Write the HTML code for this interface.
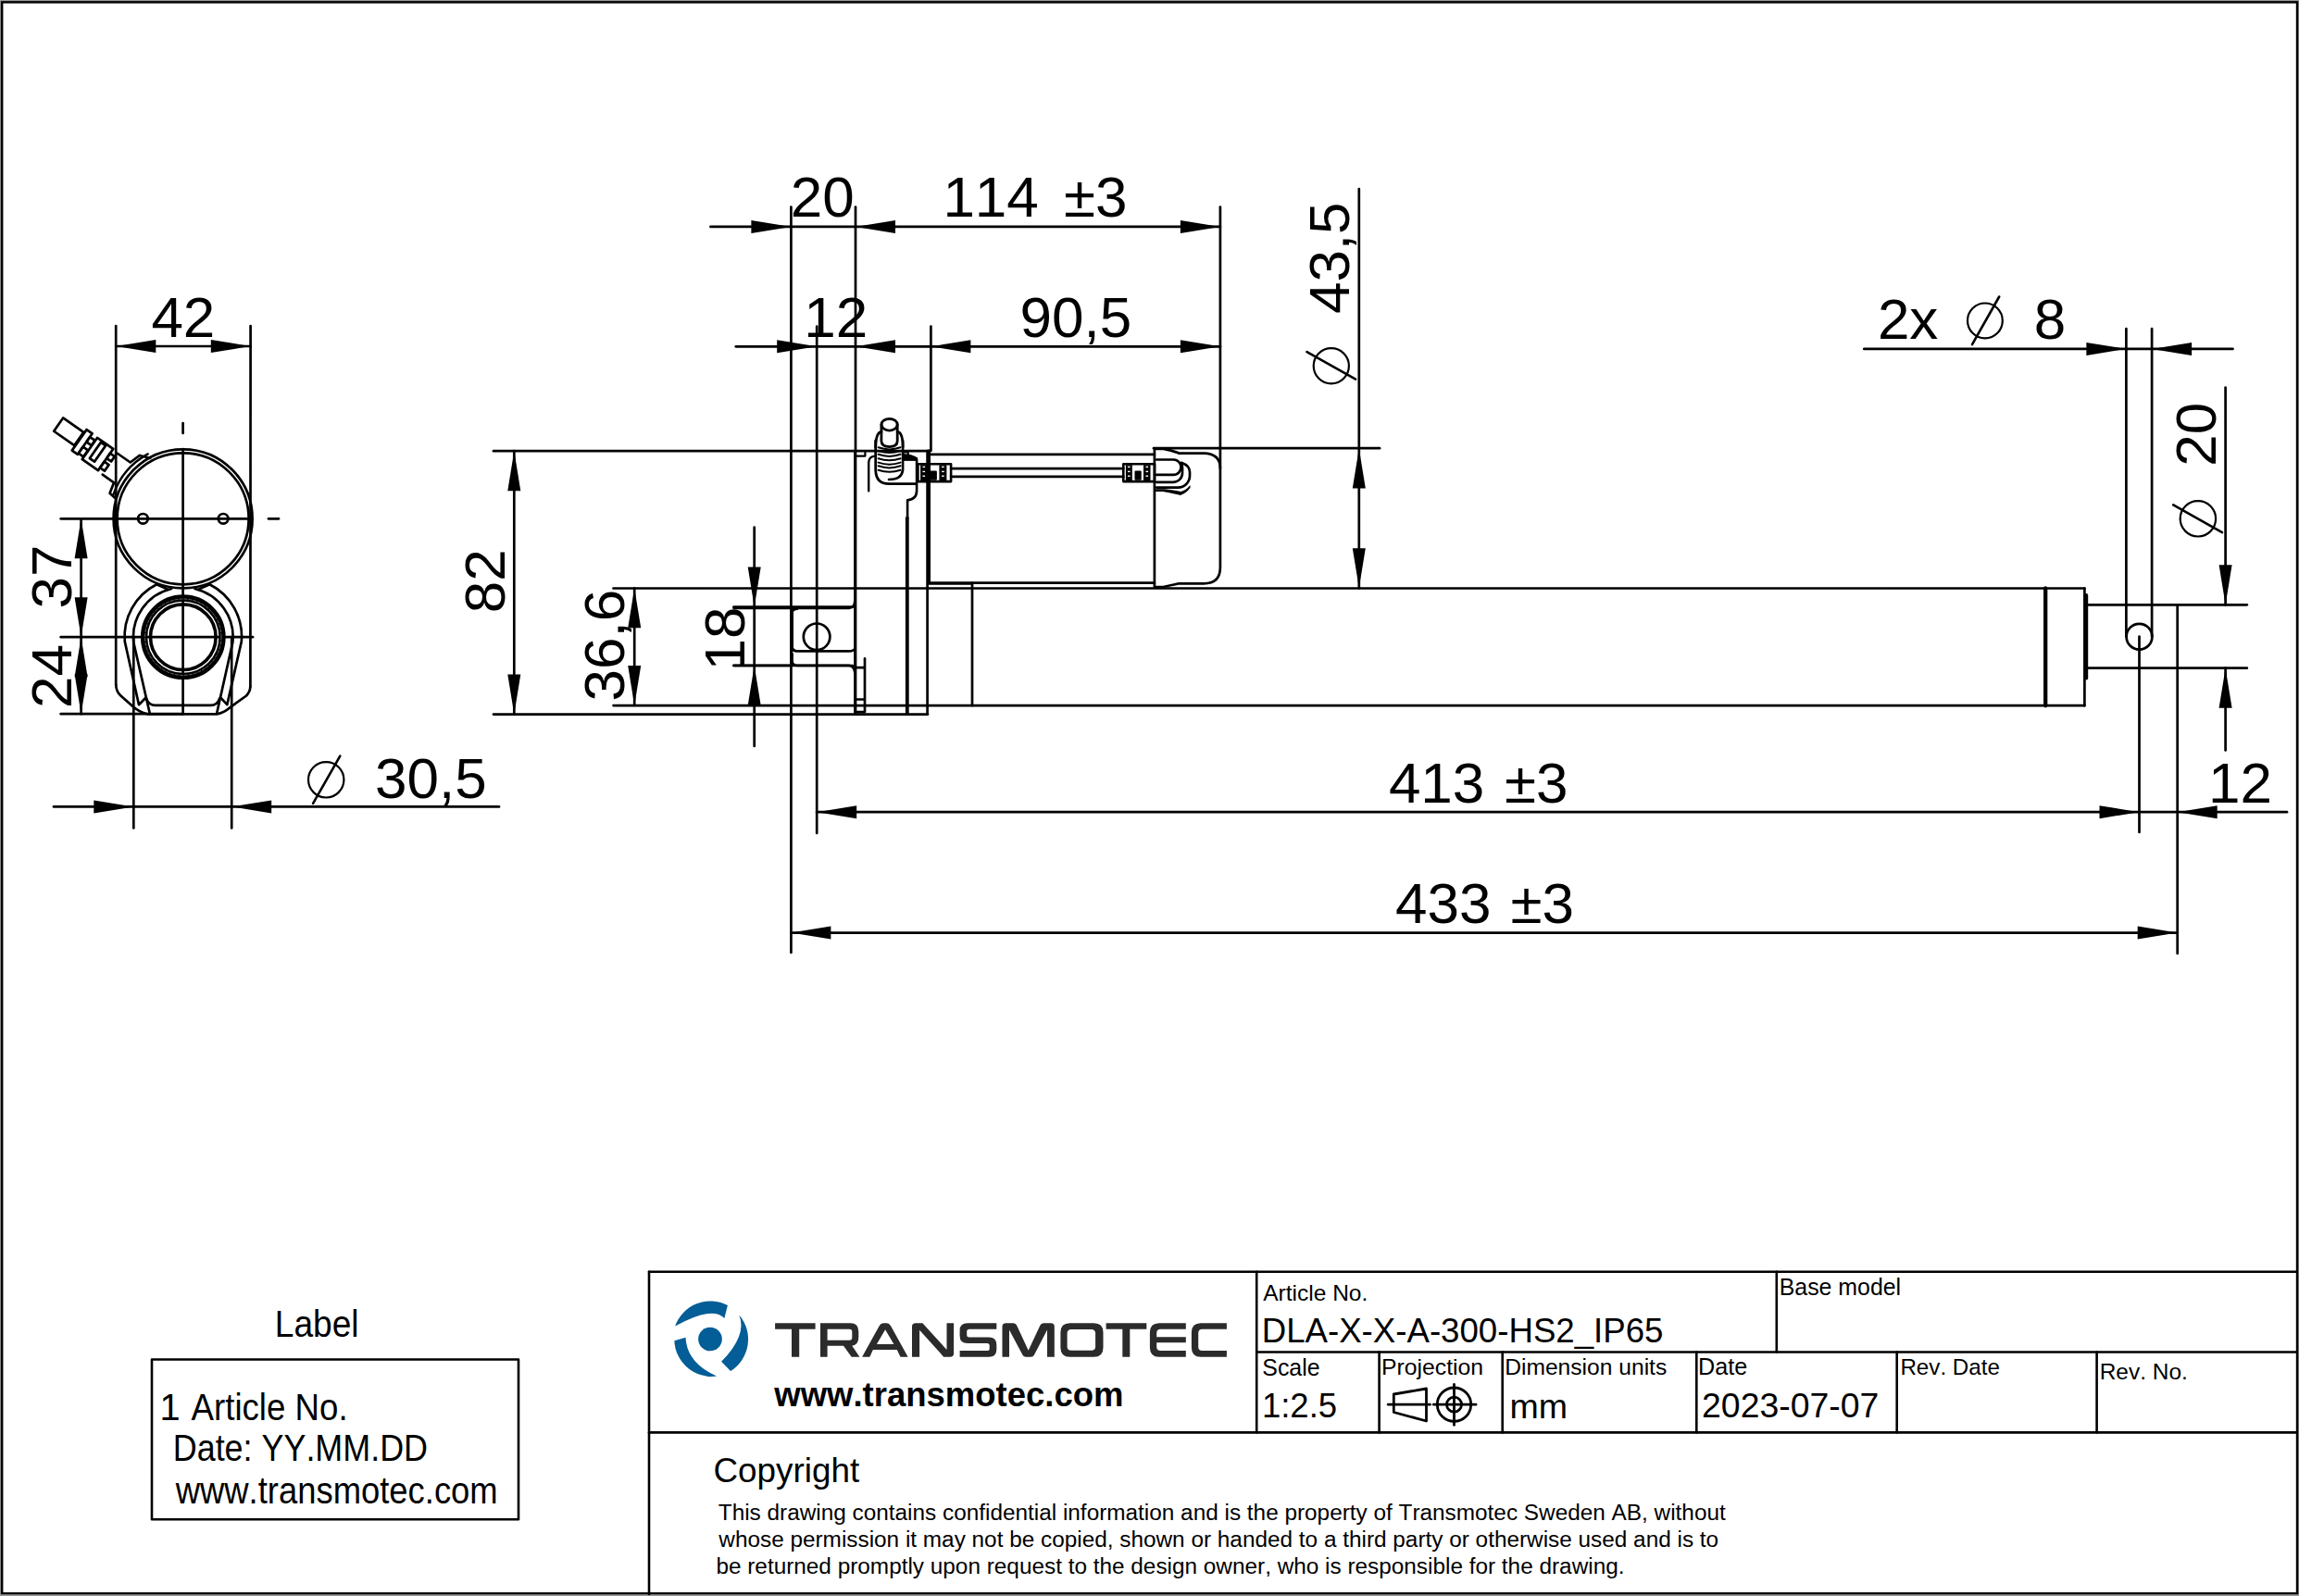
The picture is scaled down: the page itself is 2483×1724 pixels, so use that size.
<!DOCTYPE html>
<html><head><meta charset="utf-8"><style>
html,body{margin:0;padding:0;background:#fff;overflow:hidden;}
svg{display:block;}
text{font-family:"Liberation Sans",sans-serif;font-kerning:none;}
</style></head><body>
<svg width="2483" height="1724" viewBox="0 0 2483 1724">
<rect width="2483" height="1724" fill="#999"/>
<rect x="1" y="1" width="2481" height="1722" fill="#fff"/>
<rect x="2.15" y="2.35" width="2478.9" height="1718.95" fill="none" stroke="#000" stroke-width="2.5"/>
<g stroke="#000" fill="none" stroke-width="2.7" stroke-linecap="round" stroke-linejoin="round">
<line x1="125.2" y1="352.0" x2="125.2" y2="739.7"/>
<line x1="270.6" y1="352.0" x2="270.4" y2="741.8"/>
<line x1="125.3" y1="374.0" x2="270.8" y2="374.0"/>
<path d="M125.2,739.7 Q125.5,747 130.4,751.5 L143.7,763.3 Q150,769 159,771.3 L234.1,771.3 Q242,770 248.7,764 L266.1,751.5 Q270.3,747 270.3,741.8" />
<circle cx="197.6" cy="560.3" r="75.0"/>
<circle cx="197.6" cy="560.3" r="71.0"/>
<circle cx="154.4" cy="560.3" r="5.3"/>
<circle cx="241.1" cy="560.3" r="5.3"/>
<line x1="65.7" y1="560.3" x2="271.0" y2="560.3"/>
<line x1="290.0" y1="560.3" x2="301.0" y2="560.3"/>
<line x1="197.6" y1="485.0" x2="197.6" y2="771.0"/>
<line x1="197.6" y1="457.0" x2="197.6" y2="468.0"/>
<g transform="translate(63.16 458.6) rotate(35)"><rect x="0" y="-8.7" width="27" height="17.4" stroke-width="2.7"/><rect x="28" y="-13" width="7.5" height="27.5" stroke-width="2.7"/><rect x="35.5" y="-8.5" width="6.5" height="6.5" stroke-width="2.7"/><rect x="35.5" y="4.5" width="6.5" height="8.5" stroke-width="2.7"/><rect x="42.5" y="-12.3" width="21" height="28.3" stroke-width="2.7"/><rect x="48.5" y="-10.5" width="6.3" height="21" stroke-width="2.7"/><rect x="63.5" y="-6.5" width="6" height="6.5" stroke-width="2.7"/><rect x="63.5" y="4.5" width="6" height="8" stroke-width="2.7"/><path d="M70,-11 L87,-11 L91,-23 L102,-27 M70,17 L85,17 L88,29 L96,30"/></g>
<path d="M122.4,534.4 A79.5,79.5 0 0 1 159.7,490.4" stroke-width="2.4" />
<path d="M169.2,631.2 A63.2,63.2 0 0 0 134.8,693 L150,761.2 L156.9,754.3" />
<path d="M226.4,631.2 A63.2,63.2 0 0 1 260.8,693 L245.3,761.2 L238.3,753.6" />
<path d="M185,636 A53.6,53.6 0 0 0 144.3,694 L161.8,770.8" />
<path d="M210.6,636 A53.6,53.6 0 0 1 251.3,694 L234.1,770.8" />
<path d="M158,754.3 Q160.5,761.9 168,761.9 L227.2,761.9 Q235,761.9 237.2,754.3" />
<line x1="169.2" y1="631.2" x2="181.0" y2="636.5"/>
<line x1="226.4" y1="631.2" x2="214.6" y2="636.5"/>
<line x1="65.7" y1="688.2" x2="273.0" y2="688.2"/>
<circle cx="197.8" cy="688.2" r="35.3" stroke-width="3.6"/>
<circle cx="197.8" cy="688.2" r="42.2" stroke-width="7.4"/>
<circle cx="197.8" cy="688.2" r="41.2" stroke="#666" stroke-width="1" stroke-dasharray="3 2"/>
<line x1="87.6" y1="560.3" x2="87.6" y2="771.2"/>
<line x1="65.7" y1="771.2" x2="198.0" y2="771.2"/>
<line x1="555.3" y1="487.2" x2="555.3" y2="771.6"/>
<line x1="533.0" y1="487.2" x2="1002.0" y2="487.2"/>
<line x1="533.0" y1="771.6" x2="1002.0" y2="771.6"/>
<line x1="58.0" y1="871.4" x2="539.0" y2="871.4"/>
<line x1="144.3" y1="688.0" x2="144.3" y2="894.5"/>
<line x1="250.2" y1="688.0" x2="250.2" y2="894.5"/>
<circle cx="352.2" cy="842.3" r="19.2" stroke-width="2.2"/>
<line x1="338.1" y1="867.9" x2="367.3" y2="816.7" stroke-width="2.6"/>
<line x1="854.4" y1="223.5" x2="854.4" y2="1029.0"/>
<line x1="924.0" y1="223.5" x2="924.0" y2="771.6"/>
<line x1="882.2" y1="352.7" x2="882.2" y2="900.0"/>
<line x1="1005.4" y1="352.7" x2="1005.4" y2="487.0"/>
<line x1="1317.9" y1="223.5" x2="1317.9" y2="506.0"/>
<line x1="767.4" y1="244.9" x2="1317.9" y2="244.9"/>
<line x1="794.8" y1="374.3" x2="1317.9" y2="374.3"/>
<line x1="1467.8" y1="204.0" x2="1467.8" y2="635.3"/>
<line x1="1246.0" y1="484.2" x2="1490.0" y2="484.2"/>
<circle cx="1437.8" cy="395.3" r="19.1" stroke-width="2.2"/>
<line x1="1411.5" y1="380.2" x2="1464.1" y2="409.7" stroke-width="2.6"/>
<line x1="2013.3" y1="376.9" x2="2411.5" y2="376.9"/>
<line x1="2296.4" y1="355.0" x2="2296.4" y2="687.7"/>
<line x1="2324.1" y1="355.0" x2="2324.1" y2="687.7"/>
<circle cx="2143.9" cy="346.4" r="18.9" stroke-width="2.2"/>
<line x1="2130.0" y1="372.2" x2="2159.2" y2="320.5" stroke-width="2.6"/>
<line x1="2403.6" y1="418.7" x2="2403.6" y2="653.3"/>
<line x1="2403.6" y1="721.7" x2="2403.6" y2="810.4"/>
<line x1="2254.0" y1="653.3" x2="2426.8" y2="653.3"/>
<line x1="2254.0" y1="721.7" x2="2426.8" y2="721.7"/>
<circle cx="2373.9" cy="560.3" r="19.2" stroke-width="2.2"/>
<line x1="2347.2" y1="545.3" x2="2400.0" y2="575.2" stroke-width="2.6"/>
<circle cx="2310.5" cy="687.7" r="13.9"/>
<line x1="2310.5" y1="687.7" x2="2310.5" y2="899.0"/>
<line x1="2351.7" y1="654.7" x2="2351.7" y2="1030.0"/>
<line x1="882.2" y1="877.2" x2="2470.0" y2="877.2"/>
<line x1="854.4" y1="1007.6" x2="2351.7" y2="1007.6"/>
<line x1="685.2" y1="635.3" x2="685.2" y2="762.0"/>
<line x1="662.5" y1="635.5" x2="2251.4" y2="635.5"/>
<line x1="662.5" y1="762.1" x2="2251.4" y2="762.1"/>
<line x1="814.7" y1="569.7" x2="814.7" y2="806.0"/>
<line x1="792.5" y1="655.5" x2="921.0" y2="655.5"/>
<line x1="792.5" y1="719.0" x2="921.0" y2="719.0"/>
<line x1="1050.0" y1="629.7" x2="1050.0" y2="762.1"/>
<line x1="2251.4" y1="635.5" x2="2251.4" y2="762.3"/>
<line x1="2209.2" y1="635.5" x2="2209.2" y2="762.3" stroke-width="4.3"/>
<line x1="2253.2" y1="643.0" x2="2253.2" y2="732.5" stroke-width="4"/>
<line x1="1003.2" y1="487.0" x2="1003.2" y2="629.7" stroke-width="3.6"/>
<line x1="1004.0" y1="490.9" x2="1246.9" y2="490.9"/>
<line x1="1004.0" y1="629.7" x2="1246.9" y2="629.7"/>
<line x1="1004.0" y1="630.4" x2="1050.0" y2="630.4"/>
<path d="M1246.9,484.8 L1246.9,634 M1246.9,484.8 L1256.5,484.8 Q1265,486 1273.5,489.7 L1300.1,489.7 Q1317.9,490 1317.9,506 L1317.9,613 Q1317.9,630.3 1300.1,630.3 L1273.5,630.3 Q1265,632 1256.5,634 L1246.9,634" />
<line x1="1001.6" y1="487.2" x2="1001.6" y2="771.2"/>
<line x1="923.5" y1="487.0" x2="923.5" y2="771.2"/>
<line x1="979.8" y1="559.6" x2="979.8" y2="771.2" stroke-width="3.8"/>
<path d="M792.5,656.8 L917,656.8 Q923.2,656 923.2,649.7" />
<path d="M855.5,703.3 L855.5,662 Q856,657.7 861,657.7" />
<path d="M855.5,662 L855.5,699 Q856,703.3 861,703.3 L917,703.3 Q922,703.3 923,701" />
<path d="M855.5,706 L855.5,714.6 Q856,718.8 861,718.8 L917,718.8 Q922.5,719.5 923.2,726" />
<line x1="792.5" y1="718.8" x2="855.5" y2="718.8"/>
<circle cx="882.1" cy="687.8" r="14.3"/>
<path d="M924.1,721.2 L934,721.2 M934,711.3 L934,769.1 M924.1,755.5 L934,755.5 M924.1,769.1 L934,769.1" />
<line x1="1027.1" y1="506.1" x2="1213.3" y2="506.1"/>
<line x1="1027.1" y1="514.8" x2="1213.3" y2="514.8"/>
<path d="M991.4,501.2 H1027.1 V520.1 H991.4 Z" stroke-width="2.6" />
<path d="M1213.3,501.2 H1247 V520.1 H1213.3 Z" stroke-width="2.6" />
<path d="M1249.2,496.5 H1267.3 A8.2,8.2 0 0 1 1267.3,512.9 H1249.2" />
<path d="M1249.2,520.8 H1267.3 A9.8,9.8 0 0 0 1277,511 L1277,505 Q1277,502 1275,500.3" />
<path d="M1249.2,526.6 H1272 A12.8,12.8 0 0 0 1285,513.8 L1285,510 Q1285,503 1276,499.8" />
<ellipse cx="960.6" cy="458.7" rx="8.6" ry="6.4" stroke-width="2.8"/>
<path d="M951.9,458.7 V476.3 Q952,482.6 960.6,482.6 Q969.2,482.6 969.2,476.3 V458.7" stroke-width="2.8" />
<path d="M945.7,483 Q946,467 952,466.5 M969.2,466.5 Q975.1,467 975.1,483" stroke-width="2.8" />
<path d="M945.7,476 V507.5 Q946,522.7 960.1,522.7 H989.5" stroke-width="2.8" />
<path d="M975.1,476 V507.5 Q974,518 960,518" stroke-width="2.6" />
<path d="M948.6,483.3 Q960.6,487.5 972.6,483.3" stroke-width="2.0" />
<path d="M948.6,487.0 Q960.6,491.2 972.6,487.0" stroke-width="2.0" />
<path d="M948.6,490.8 Q960.6,495.0 972.6,490.8" stroke-width="2.0" />
<path d="M948.6,495.2 Q960.6,499.4 972.6,495.2" stroke-width="2.0" />
<path d="M948.6,499.6 Q960.6,503.8 972.6,499.6" stroke-width="2.0" />
<path d="M948.6,503.3 Q960.6,507.5 972.6,503.3" stroke-width="2.0" />
<path d="M948.6,507.7 Q960.6,511.9 972.6,507.7" stroke-width="2.0" />
<path d="M938.2,530.2 V499.5 Q938.5,493 945,492.6" stroke-width="2.4" />
<path d="M925,492.6 H934.4 V488.5" stroke-width="2.2" />
<path d="M975.1,496.4 H990.1 V522.7 M990.1,522.7 V530 Q990,539.5 980.1,540.2 V560" stroke-width="2.6" />
<path d="M975.6,488.4 H980.8 V491" stroke-width="2.0" />
<rect x="164" y="1468.5" width="396" height="172.8" stroke-width="2.6"/>
<line x1="701.0" y1="1373.8" x2="2480.0" y2="1373.8" stroke-width="2.6"/>
<line x1="701.0" y1="1373.8" x2="701.0" y2="1722.0" stroke-width="2.6"/>
<line x1="1357.2" y1="1373.8" x2="1357.2" y2="1547.4" stroke-width="2.6"/>
<line x1="701.0" y1="1547.4" x2="2480.0" y2="1547.4" stroke-width="2.6"/>
<line x1="1357.2" y1="1460.5" x2="2480.0" y2="1460.5" stroke-width="2.6"/>
<line x1="1918.8" y1="1373.8" x2="1918.8" y2="1460.5" stroke-width="2.6"/>
<line x1="1489.6" y1="1460.5" x2="1489.6" y2="1547.4" stroke-width="2.6"/>
<line x1="1622.7" y1="1460.5" x2="1622.7" y2="1547.4" stroke-width="2.6"/>
<line x1="1832.3" y1="1460.5" x2="1832.3" y2="1547.4" stroke-width="2.6"/>
<line x1="2048.7" y1="1460.5" x2="2048.7" y2="1547.4" stroke-width="2.6"/>
<line x1="2264.6" y1="1460.5" x2="2264.6" y2="1547.4" stroke-width="2.6"/>
<path d="M1505.3,1506 L1540.5,1500 L1540.5,1535 L1505.3,1525.5 Z" stroke-width="2.8" />
<line x1="1499.3" y1="1517.2" x2="1544.4" y2="1517.2" stroke-width="2.8"/>
<circle cx="1570.5" cy="1517.2" r="18.2" stroke-width="2.8"/>
<circle cx="1570.5" cy="1517.2" r="8.0" stroke-width="2.8"/>
<line x1="1548.3" y1="1517.2" x2="1594.0" y2="1517.2" stroke-width="2.8"/>
<line x1="1570.5" y1="1495.5" x2="1570.5" y2="1539.3" stroke-width="2.8"/>
</g>
<g fill="#000">
<polygon points="125.3,374.0 168.3,367.0 168.3,381.0"/>
<polygon points="270.8,374.0 227.8,367.0 227.8,381.0"/>
<polygon points="87.6,560.3 80.6,603.3 94.6,603.3"/>
<polygon points="87.6,688.2 80.6,645.2 94.6,645.2"/>
<polygon points="87.6,688.2 80.6,731.2 94.6,731.2"/>
<polygon points="87.6,771.2 80.6,728.2 94.6,728.2"/>
<polygon points="555.3,487.2 548.3,530.2 562.3,530.2"/>
<polygon points="555.3,771.6 548.3,728.6 562.3,728.6"/>
<polygon points="144.3,871.4 101.3,864.4 101.3,878.4"/>
<polygon points="250.2,871.4 293.2,864.4 293.2,878.4"/>
<polygon points="854.4,244.9 811.4,237.9 811.4,251.9"/>
<polygon points="924.0,244.9 967.0,237.9 967.0,251.9"/>
<polygon points="1317.9,244.9 1274.9,237.9 1274.9,251.9"/>
<polygon points="882.2,374.3 839.2,367.3 839.2,381.3"/>
<polygon points="924.0,374.3 967.0,367.3 967.0,381.3"/>
<polygon points="1005.4,374.3 1048.4,367.3 1048.4,381.3"/>
<polygon points="1317.9,374.3 1274.9,367.3 1274.9,381.3"/>
<polygon points="1467.8,484.4 1460.8,527.4 1474.8,527.4"/>
<polygon points="1467.8,635.3 1460.8,592.3 1474.8,592.3"/>
<polygon points="2296.4,376.9 2253.4,369.9 2253.4,383.9"/>
<polygon points="2324.1,376.9 2367.1,369.9 2367.1,383.9"/>
<polygon points="2403.6,653.3 2396.6,610.3 2410.6,610.3"/>
<polygon points="2403.6,721.7 2396.6,764.7 2410.6,764.7"/>
<polygon points="882.2,877.2 925.2,870.2 925.2,884.2"/>
<polygon points="2310.5,877.2 2267.5,870.2 2267.5,884.2"/>
<polygon points="2351.7,877.2 2394.7,870.2 2394.7,884.2"/>
<polygon points="854.4,1007.6 897.4,1000.6 897.4,1014.6"/>
<polygon points="2351.7,1007.6 2308.7,1000.6 2308.7,1014.6"/>
<polygon points="685.2,635.3 678.2,678.3 692.2,678.3"/>
<polygon points="685.2,762.0 678.2,719.0 692.2,719.0"/>
<polygon points="814.7,655.5 807.7,612.5 821.7,612.5"/>
<polygon points="814.7,719.0 807.7,762.0 821.7,762.0"/>
<rect x="994.1" y="502.2" width="7.3" height="16.900000000000034"/>
<rect x="996.5" y="503.7" width="2.6" height="1.4" fill="#fff"/>
<rect x="996.5" y="508.7" width="2.6" height="1.4" fill="#fff"/>
<rect x="996.5" y="513.5" width="2.6" height="1.4" fill="#fff"/>
<rect x="1014.4" y="502.2" width="8.0" height="16.900000000000034"/>
<rect x="1017.1" y="503.7" width="2.6" height="1.4" fill="#fff"/>
<rect x="1017.1" y="508.7" width="2.6" height="1.4" fill="#fff"/>
<rect x="1017.1" y="513.5" width="2.6" height="1.4" fill="#fff"/>
<rect x="1004.3" y="508.4" width="7.6" height="10.3" rx="1.2"/>
<rect x="1215.9" y="502.2" width="6.9" height="16.900000000000034"/>
<rect x="1218.0" y="503.7" width="2.6" height="1.4" fill="#fff"/>
<rect x="1218.0" y="508.7" width="2.6" height="1.4" fill="#fff"/>
<rect x="1218.0" y="513.5" width="2.6" height="1.4" fill="#fff"/>
<rect x="1235.0" y="502.2" width="7.5" height="16.900000000000034"/>
<rect x="1237.5" y="503.7" width="2.6" height="1.4" fill="#fff"/>
<rect x="1237.5" y="508.7" width="2.6" height="1.4" fill="#fff"/>
<rect x="1237.5" y="513.5" width="2.6" height="1.4" fill="#fff"/>
<rect x="1225.5" y="508.4" width="7.2" height="10.3" rx="1.2"/>
<path d="M1247,528.3 L1258,528.3 Q1268,529.5 1275.5,531 Q1281,529.5 1285.5,524 L1285.5,527 Q1281,533 1274.6,535 Q1265,532.5 1256,531 L1247,531 Z"/>
<path d="M975.1,490 Q985,490.3 991.2,494.6 L990.6,497.4 L975.1,497.4 Z"/>
</g>
<g fill="#000" font-family="Liberation Sans, sans-serif">
<text x="163.4" y="363.9" font-size="62.00">42</text>
<text transform="translate(77.1 657.6) rotate(-90)" font-size="62.00">37</text>
<text transform="translate(77.1 764.9) rotate(-90)" font-size="62.00">24</text>
<text transform="translate(544.5 662.3) rotate(-90)" font-size="62.00">82</text>
<text x="405.1" y="862.0" font-size="62.00">30,5</text>
<text x="853.7" y="233.7" font-size="62.00">20</text>
<text x="1018.4" y="233.8" font-size="62.00">114</text>
<text x="1149.1" y="233.8" font-size="62.00">±3</text>
<text x="868.2" y="364.4" font-size="62.00">12</text>
<text x="1101.6" y="364.4" font-size="62.00">90,5</text>
<text transform="translate(1456.9 339.1) rotate(-90)" font-size="62.00">43,5</text>
<text x="2027.9" y="365.5" font-size="62.00">2x</text>
<text x="2196.7" y="365.5" font-size="62.00">8</text>
<text transform="translate(2393.4 503.7) rotate(-90)" font-size="62.00">20</text>
<text x="1499.9" y="866.8" font-size="62.00">413</text>
<text x="1624.9" y="866.8" font-size="62.00">±3</text>
<text x="2385.0" y="866.8" font-size="62.00">12</text>
<text x="1507.1" y="996.9" font-size="62.00">433</text>
<text x="1631.5" y="996.9" font-size="62.00">±3</text>
<text transform="translate(674.4 757.5) rotate(-90)" font-size="62.00">36,6</text>
<text transform="translate(803.6 724.5) rotate(-90)" font-size="62.00">18</text>
<text transform="translate(299.8 1444.1) scale(0.9327 1)" x="-3.26" y="0" font-size="39.80">Label</text>
<text transform="translate(206.6 1534.2) scale(0.9213 1)" x="-0.08" y="0" font-size="39.80">Article No.</text>
<text x="172.5" y="1534.2" font-size="39.80">1</text>
<text transform="translate(189.7 1578.0) scale(0.9020 1)" x="-3.26" y="0" font-size="39.80">Date: YY.MM.DD</text>
<text transform="translate(189.7 1624.2) scale(0.9152 1)" x="0.06" y="0" font-size="39.80">www.transmotec.com</text>
<text x="1364.2" y="1404.8" font-size="24.54">Article No.</text>
<text x="1362.7" y="1450.1" font-size="36.65">DLA-X-X-A-300-HS2_IP65</text>
<text x="1921.7" y="1398.5" font-size="24.90">Base model</text>
<text x="1363.3" y="1486.2" font-size="24.88">Scale</text>
<text x="1362.9" y="1530.8" font-size="36.52">1:2.5</text>
<text x="1492.0" y="1485.0" font-size="24.77">Projection</text>
<text x="1625.2" y="1485.0" font-size="24.61">Dimension units</text>
<text x="1630.5" y="1531.5" font-size="37.56">mm</text>
<text x="1834.1" y="1484.9" font-size="25.18">Date</text>
<text x="1838.1" y="1531.0" font-size="37.37">2023-07-07</text>
<text x="2052.4" y="1485.0" font-size="24.19">Rev. Date</text>
<text x="2267.7" y="1490.0" font-size="24.46">Rev. No.</text>
<text x="770.5" y="1600.5" font-size="36.83">Copyright</text>
<text x="775.8" y="1642.2" font-size="24.35">This drawing contains confidential information and is the property of Transmotec Sweden AB, without</text>
<text x="776.3" y="1670.9" font-size="24.35">whose permission it may not be copied, shown or handed to a third party or otherwise used and is to</text>
<text x="773.4" y="1700.3" font-size="24.35">be returned promptly upon request to the design owner, who is responsible for the drawing.</text>
<text x="836.3" y="1519.1" font-size="36.50" font-weight="bold">www.transmotec.com</text>
</g>
<g transform="translate(720 1395) scale(0.062657)" fill="#035d96">
<circle cx="750" cy="822" r="205"/>
<path d="M145,600 A645,645 0 0 1 1052,240 L995,462 Q790,240 145,600 Z"/>
<path d="M1250,405 A645,645 0 0 1 1102,1372 L943,1210 Q1392,752 1250,405 Z"/>
<path d="M862,1462 A645,645 0 0 1 133,848 L327,795 Q348,1232 862,1462 Z"/>
</g>
<g fill="#2b2b2b">
<path d="M837.1,1429.3 H880.6 V1435.8 H863.2 V1465.7 H855 V1435.8 H837.1 Z"/>
<path fill-rule="evenodd" d="M886,1429.3 H918.5 Q927.3,1429.3 927.3,1438.5 V1444.5 Q927.3,1452.5 920.3,1453.7 L928.4,1465.7 H919.7 L911,1453.7 H893.6 V1465.7 H886 Z M893.6,1435.8 V1447.7 H917.5 Q920.3,1447.7 920.3,1444.5 V1439 Q920.3,1435.8 917.5,1435.8 Z"/>
<path fill-rule="evenodd" d="M931.1,1465.7 L949.5,1432.5 Q951.3,1429.3 954,1429.3 H957.7 Q960.4,1429.3 962.2,1432.5 L980.6,1465.7 H972.5 L968.8,1458 H942.9 L939.3,1465.7 Z M946.9,1452.1 H965.4 L956.1,1436.3 Z"/>
<path d="M985,1465.7 V1433 Q985,1429.3 989,1429.3 H996.4 L1022.5,1458 V1429.3 H1030.1 V1462 Q1030.1,1465.7 1026,1465.7 H1019.2 L993.1,1436.8 V1465.7 Z"/>
<path d="M1076.3,1429.3 H1045 Q1036.6,1429.3 1036.6,1437 V1443 Q1036.6,1451 1045,1451 H1066 Q1068.7,1451 1068.7,1453.5 V1456.5 Q1068.7,1459.1 1066,1459.1 H1036.6 V1465.7 H1068 Q1076.3,1465.7 1076.3,1458 V1452.5 Q1076.3,1444.5 1068,1444.5 H1047 Q1044.2,1444.5 1044.2,1442 V1438.5 Q1044.2,1435.8 1047,1435.8 H1076.3 Z"/>
<path d="M1082.5,1465.7 V1433 Q1082.5,1429.3 1086.5,1429.3 H1094 Q1097,1429.3 1098.5,1432.5 L1110.7,1458.8 L1123,1432.5 Q1124.5,1429.3 1127.5,1429.3 H1135 Q1138.8,1429.3 1138.8,1433 V1465.7 H1131 V1436.6 L1117,1463.5 Q1115.8,1465.7 1113.5,1465.7 H1108 Q1105.6,1465.7 1104.4,1463.5 L1090,1436.6 V1465.7 Z"/>
<path fill-rule="evenodd" d="M1155.4,1429.3 H1181.5 Q1191.5,1429.3 1191.5,1439.3 V1455.7 Q1191.5,1465.7 1181.5,1465.7 H1155.4 Q1145.4,1465.7 1145.4,1455.7 V1439.3 Q1145.4,1429.3 1155.4,1429.3 Z M1157,1436 Q1152.6,1436 1152.6,1440.5 V1454.4 Q1152.6,1458.8 1157,1458.8 H1178.7 Q1183.1,1458.8 1183.1,1454.4 V1440.5 Q1183.1,1436 1178.7,1436 Z"/>
<path d="M1194.6,1429.3 H1238.3 V1435.8 H1220.3 V1465.7 H1212.3 V1435.8 H1194.6 Z"/>
<path d="M1280.8,1429.3 H1251.9 Q1241.9,1429.3 1241.9,1439.3 V1455.7 Q1241.9,1465.7 1251.9,1465.7 H1280.8 V1459.1 H1253.5 Q1249.2,1459.1 1249.2,1454.8 V1450.2 H1280.8 V1444.2 H1249.2 V1440.2 Q1249.2,1435.8 1253.5,1435.8 H1280.8 Z"/>
<path d="M1324.9,1429.3 H1296.9 Q1286.9,1429.3 1286.9,1439.3 V1455.7 Q1286.9,1465.7 1296.9,1465.7 H1324.9 V1459.1 H1298.5 Q1294.2,1459.1 1294.2,1454.8 V1440.2 Q1294.2,1435.8 1298.5,1435.8 H1324.9 Z"/>
</g>

</svg>
</body></html>
